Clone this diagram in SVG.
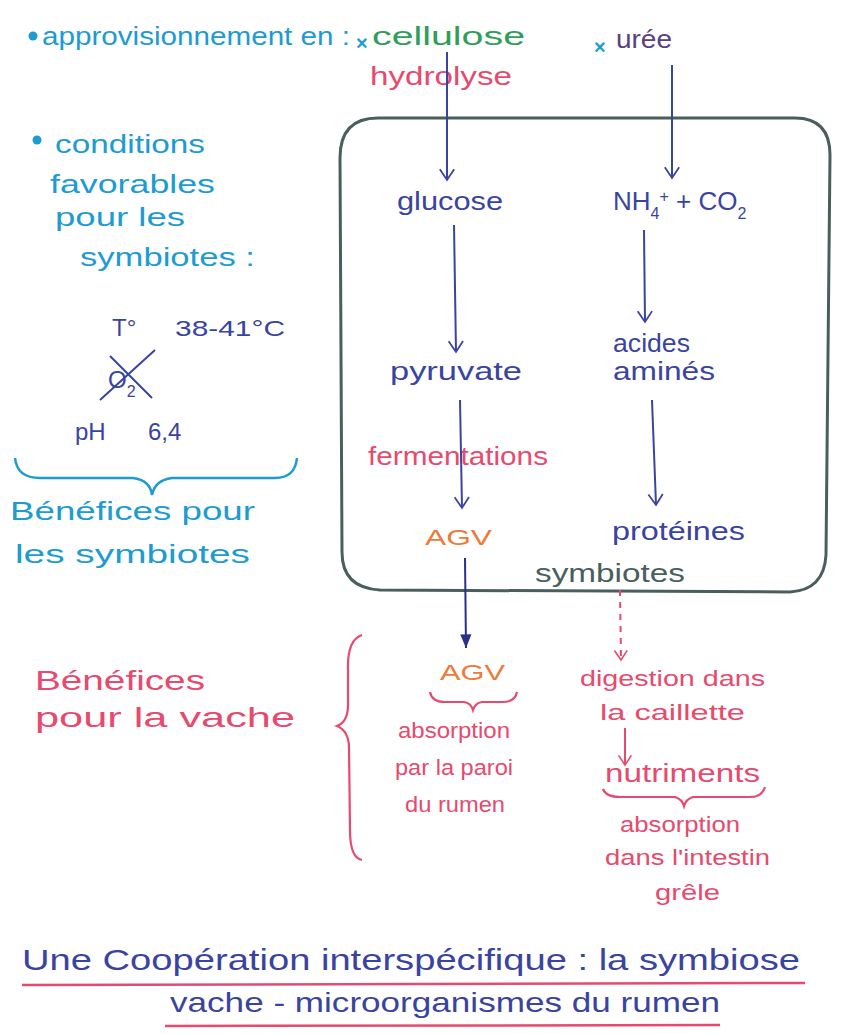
<svg xmlns="http://www.w3.org/2000/svg" width="854" height="1034" viewBox="0 0 854 1034">
<style>
text{font-family:"Liberation Sans","Open Sans",sans-serif;font-size:26px}
.cy{fill:#1e9bd0}.gr{fill:#2e9e5a}.rd{fill:#e64a6e}.nv{fill:#3a44a0}.or{fill:#ee7a3a}.gy{fill:#4a5e5e}.pu{fill:#5b3f80}
.ln{fill:none;stroke:#3a44a0;stroke-width:2}
.rl{fill:none;stroke:#e64a6e;stroke-width:2.2}
.cl{fill:none;stroke:#1e9bd0;stroke-width:2.5}
</style>
<defs>
<marker id="vOpen" viewBox="0 0 20 20" refX="18" refY="10" markerWidth="18" markerHeight="18" markerUnits="userSpaceOnUse" orient="auto">
<path d="M6,2 L18,10 L6,18" fill="none" stroke="#3a44a0" stroke-width="2"/>
</marker>
<marker id="vFill" viewBox="0 0 20 20" refX="19" refY="10" markerWidth="18" markerHeight="16" markerUnits="userSpaceOnUse" orient="auto">
<path d="M2,3 L19,10 L2,17 Z" fill="#2a2f8a"/>
</marker>
<marker id="vRed" viewBox="0 0 20 20" refX="18" refY="10" markerWidth="16" markerHeight="16" markerUnits="userSpaceOnUse" orient="auto">
<path d="M6,2 L18,10 L6,18" fill="none" stroke="#e64a6e" stroke-width="2"/>
</marker>
</defs>
<rect width="854" height="1034" fill="#ffffff"/>

<g id="supply">
<circle cx="33" cy="36" r="4.5" fill="#1e9bd0"/>
<text class="cy" x="42" y="45" textLength="308" lengthAdjust="spacingAndGlyphs">approvisionnement en :</text>
<text x="356" y="50" style="fill:#1e9bd0;font-size:20px;font-weight:bold">×</text>
<text class="gr" x="372" y="45" textLength="153" lengthAdjust="spacingAndGlyphs">cellulose</text>
<text x="594" y="54" style="fill:#1e9bd0;font-size:20px;font-weight:bold">×</text>
<text class="pu" x="616" y="48" textLength="56" lengthAdjust="spacingAndGlyphs">urée</text>
<text class="rd" x="370" y="85" textLength="142" lengthAdjust="spacingAndGlyphs">hydrolyse</text>
</g>

<g id="conditions">
<circle cx="37" cy="140" r="4.5" fill="#1e9bd0"/>
<text class="cy" x="55" y="153" textLength="150" lengthAdjust="spacingAndGlyphs">conditions</text>
<text class="cy" x="50" y="193" textLength="165" lengthAdjust="spacingAndGlyphs">favorables</text>
<text class="cy" x="55" y="226" textLength="130" lengthAdjust="spacingAndGlyphs">pour les</text>
<text class="cy" x="80" y="266" textLength="175" lengthAdjust="spacingAndGlyphs">symbiotes :</text>
<text class="nv" x="112" y="336" style="font-size:24px">T°</text>
<text class="nv" x="175" y="336" textLength="110" lengthAdjust="spacingAndGlyphs" style="font-size:22px">38-41°C</text>
<text class="nv" x="108" y="388" style="font-size:24px">O<tspan baseline-shift="sub" style="font-size:16px">2</tspan></text>
<path d="M100,400 L155,350 M110,356 L152,398" stroke="#3a44a0" stroke-width="2" fill="none"/>
<text class="nv" x="75" y="440" style="font-size:24px">pH</text>
<text class="nv" x="148" y="440" style="font-size:24px">6,4</text>
</g>

<g id="benef-symbiotes">
<path class="cl" d="M15,458 Q17,478 40,478 L133,478 Q150,480 152,495 Q155,480 172,478 L275,478 Q295,478 297,458"/>
<text class="cy" x="10" y="520" textLength="245" lengthAdjust="spacingAndGlyphs">Bénéfices pour</text>
<text class="cy" x="15" y="563" textLength="235" lengthAdjust="spacingAndGlyphs">les symbiotes</text>
</g>

<g id="rumen-box">
<path d="M378,118 L795,118 Q830,118 830,155 L826,555 Q824,590 790,592 L380,590 Q342,588 342,552 L340,158 Q340,118 378,118 Z" fill="none" stroke="#4a5e5e" stroke-width="3"/>
<text class="gy" x="535" y="582" textLength="150" lengthAdjust="spacingAndGlyphs">symbiotes</text>
</g>

<g id="glucose"><text class="nv" x="397" y="210" textLength="106" lengthAdjust="spacingAndGlyphs">glucose</text></g>
<g id="nh4"><text class="nv" x="613" y="210">NH<tspan baseline-shift="sub" style="font-size:16px">4</tspan><tspan baseline-shift="super" style="font-size:16px">+</tspan> + CO<tspan baseline-shift="sub" style="font-size:16px">2</tspan></text></g>
<g id="pyruvate"><text class="nv" x="390" y="380" textLength="132" lengthAdjust="spacingAndGlyphs">pyruvate</text></g>
<g id="acides"><text class="nv" x="613" y="352" textLength="77" lengthAdjust="spacingAndGlyphs">acides</text>
<text class="nv" x="613" y="380" textLength="102" lengthAdjust="spacingAndGlyphs">aminés</text></g>
<g id="fermentations"><text class="rd" x="368" y="465" textLength="180" lengthAdjust="spacingAndGlyphs">fermentations</text></g>
<g id="agv1"><text class="or" x="425" y="545" textLength="67" lengthAdjust="spacingAndGlyphs" style="font-size:22px">AGV</text></g>
<g id="proteines"><text class="nv" x="612" y="540" textLength="133" lengthAdjust="spacingAndGlyphs">protéines</text></g>

<g id="benef-vache">
<text class="rd" x="35" y="690" textLength="170" lengthAdjust="spacingAndGlyphs" style="font-size:28px">Bénéfices</text>
<text class="rd" x="35" y="727" textLength="260" lengthAdjust="spacingAndGlyphs" style="font-size:28px">pour la vache</text>
<path class="rl" d="M362,635 Q347,640 348,670 L348,705 Q348,722 337,726 Q349,731 349,748 L350,830 Q350,858 362,860"/>
</g>

<g id="agv2">
<text class="or" x="440" y="680" textLength="65" lengthAdjust="spacingAndGlyphs" style="font-size:22px">AGV</text>
<path class="rl" d="M430,692 Q432,702 445,702 L464,702 Q471,703 473,710 Q475,703 482,702 L503,702 Q515,702 517,692"/>
<text class="rd" x="398" y="738" textLength="112" lengthAdjust="spacingAndGlyphs" style="font-size:22px">absorption</text>
<text class="rd" x="395" y="775" textLength="118" lengthAdjust="spacingAndGlyphs" style="font-size:22px">par la paroi</text>
<text class="rd" x="405" y="812" textLength="100" lengthAdjust="spacingAndGlyphs" style="font-size:22px">du rumen</text>
</g>

<g id="digestion">
<text class="rd" x="580" y="686" textLength="185" lengthAdjust="spacingAndGlyphs" style="font-size:22px">digestion dans</text>
<text class="rd" x="600" y="720" textLength="145" lengthAdjust="spacingAndGlyphs" style="font-size:22px">la caillette</text>
</g>

<g id="nutriments">
<text class="rd" x="605" y="782" textLength="155" lengthAdjust="spacingAndGlyphs" style="font-size:26px">nutriments</text>
<path class="rl" d="M603,789 Q606,797 620,797 L675,797 Q682,799 684,806 Q686,799 693,797 L750,797 Q762,797 765,787"/>
<text class="rd" x="620" y="832" textLength="120" lengthAdjust="spacingAndGlyphs" style="font-size:22px">absorption</text>
<text class="rd" x="605" y="865" textLength="165" lengthAdjust="spacingAndGlyphs" style="font-size:22px">dans l'intestin</text>
<text class="rd" x="655" y="900" textLength="65" lengthAdjust="spacingAndGlyphs" style="font-size:22px">grêle</text>
</g>

<g id="title">
<text class="nv" x="22" y="970" textLength="778" lengthAdjust="spacingAndGlyphs" style="font-size:30px">Une Coopération interspécifique : la symbiose</text>
<path d="M22,985 L805,983" stroke="#e64a6e" stroke-width="2.5" fill="none"/>
<text class="nv" x="170" y="1012" textLength="550" lengthAdjust="spacingAndGlyphs" style="font-size:28px">vache - microorganismes du rumen</text>
<path d="M165,1026 L720,1025" stroke="#e64a6e" stroke-width="2.5" fill="none"/>
</g>

<g id="connectors">
<path class="ln" d="M447,52 L447,180" marker-end="url(#vOpen)"/>
<path class="ln" d="M672,65 L672,178" marker-end="url(#vOpen)"/>
<path class="ln" d="M454,225 L456,352" marker-end="url(#vOpen)"/>
<path class="ln" d="M644,230 L645,322" marker-end="url(#vOpen)"/>
<path class="ln" d="M460,400 L462,508" marker-end="url(#vOpen)"/>
<path class="ln" d="M652,400 L656,505" marker-end="url(#vOpen)"/>
<path d="M465,558 L466,648" stroke="#2a2f8a" stroke-width="2" fill="none" marker-end="url(#vFill)"/>
<path d="M620,590 L621,660" stroke="#e64a6e" stroke-width="2" stroke-dasharray="6,6" fill="none" marker-end="url(#vRed)"/>
<path d="M625,728 L625,765" stroke="#e64a6e" stroke-width="2" fill="none" marker-end="url(#vRed)"/>
</g>
</svg>
